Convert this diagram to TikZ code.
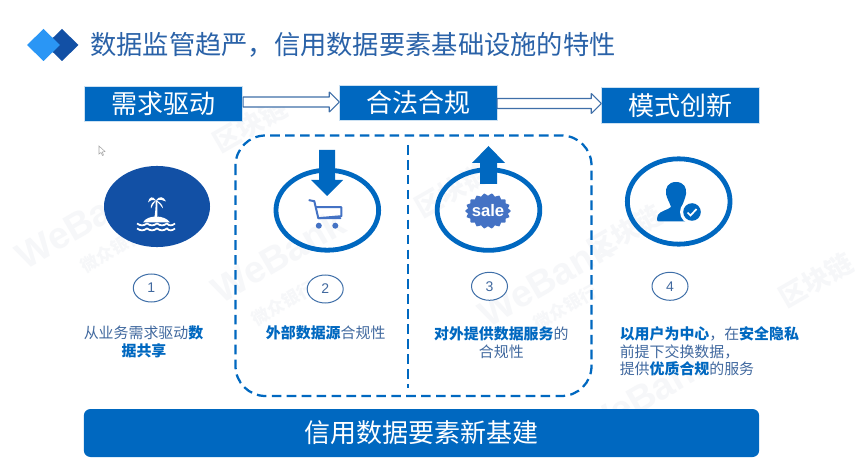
\documentclass[tikz,border=0pt]{standalone}
\usepackage{fontspec}
\setmainfont{Noto Sans CJK SC}
\newfontfamily\latinsans{Liberation Sans}
\usetikzlibrary{calc,arrows.meta,shapes.geometric}
\definecolor{wbblue}{HTML}{0068C0}
\definecolor{wbdark}{HTML}{1250A5}
\definecolor{wblight}{HTML}{2A96F5}
\definecolor{wbtitle}{HTML}{2A62A8}
\definecolor{wbtext}{HTML}{41699F}
\definecolor{wbline}{HTML}{3F6FA8}
\definecolor{wbicon}{HTML}{4472C4}
\definecolor{wmark}{HTML}{F6F7F9}
\tikzset{
  x=0.75pt,y=-0.75pt,
  headbox/.style={fill=wbblue,draw=white!80!wbblue,line width=0.4pt,text=white,minimum width=118pt,minimum height=26.6pt,inner sep=0pt,font=\fontsize{19.5pt}{22pt}\selectfont},
  hollow/.style={draw=wbline,fill=white,line width=0.8pt,line join=bevel},
  bigring/.style={draw=wbblue,line width=3.6pt,fill=none},
  numring/.style={draw=wbline,line width=0.75pt,fill=white,font=\latinsans\fontsize{10.5pt}{12pt}\selectfont,text=wbtext,inner sep=0pt},
  dashline/.style={draw=wbblue,line width=1.7pt,dash pattern=on 7.2pt off 4pt},
  desc/.style={text=wbtext,font=\fontsize{11.2pt}{13pt}\selectfont,inner sep=0pt},
  wmA/.style={text=wmark,rotate=30,font=\latinsans\bfseries\fontsize{28pt}{30pt}\selectfont,inner sep=0pt},
  wmB/.style={text=wmark,rotate=30,font=\bfseries\fontsize{13pt}{15pt}\selectfont,inner sep=0pt},
  wmC/.style={text=wmark,rotate=30,font=\bfseries\fontsize{20pt}{22pt}\selectfont,inner sep=0pt},
}
\newcommand{\hollowarrow}[2]{%
  \draw[hollow] ($(#1)+(0,-5)$) -- ($(#2)+(-10,-5)$) -- ($(#2)+(-10,-10)$) -- (#2) --
    ($(#2)+(-10,10)$) -- ($(#2)+(-10,5)$) -- ($(#1)+(0,5)$) -- cycle;}
\newcommand{\bb}[1]{\textcolor{wbblue}{\bfseries #1}}
\begin{document}
\begin{tikzpicture}
\useasboundingbox (0,0) rectangle (864,463);
\fill[white] (0,0) rectangle (864,463);
% faint watermark
\node[wmA] (wa) at (82,222) {WeBank};
\node[wmB] (wb) at (112,250) {微众银行};
\node[wmC] (wc) at (250,125) {区块链};
\node[wmA] (wd) at (278,256) {WeBank};
\node[wmB] (we) at (283,303) {微众银行};
\node[wmC] (wf) at (452,190) {区块链};
\node[wmA] (wg) at (545,280) {WeBank};
\node[wmB] (wh) at (565,307) {微众银行};
\node[wmC] (wi) at (625,232) {区块链};
\node[wmA] (wj) at (645,395) {WeBank};
\node[wmC] (wk) at (816,280) {区块链};
% title mark
\fill[wbdark] (62,29) -- (78.5,45) -- (62,61) -- (45.5,45) -- cycle;
\fill[wblight] (43.5,29) -- (60,45) -- (43.5,61) -- (27,45) -- cycle;
\node[anchor=west,inner sep=0pt,text=wbtitle,font=\fontsize{19.7pt}{22pt}\selectfont] (title) at (90,45) {数据监管趋严，信用数据要素基础设施的特性};
% header boxes
\node[headbox] (need) at (163.2,104) {需求驱动};
\node[headbox] (legal) at (418.2,102.7) {合法合规};
\node[headbox] (mode) at (680.2,105.2) {模式创新};
\coordinate (a1s) at ($(need.east)+(1,-2)$);
\coordinate (a1e) at ($(legal.west)+(0,-0.7)$);
\coordinate (a2s) at ($(legal.east)+(0,0.8)$);
\coordinate (a2e) at ($(mode.west)+(0,-1.7)$);
\hollowarrow{a1s}{a1e}
\hollowarrow{a2s}{a2e}
% dashed frame
\draw[dashline,rounded corners=22.5pt] (235.5,135.5) rectangle (591.5,396);
\draw[dashline] (408,145) -- (408,388);
% ring 1 with island
\node[ellipse,fill=wbdark,minimum width=79.5pt,minimum height=60.8pt,inner sep=0pt] (r1) at (157,206.5) {};
\begin{scope}[shift={(r1.center)}]
  \fill[white] (-1.5,-6) .. controls (-1,0) and (-2,8) .. (-3,13) -- (0,13) .. controls (0.5,8) and (0.5,0) .. (0.5,-6) -- cycle;
  \fill[white] (-1,-6) .. controls (-4,-11) and (-8,-10) .. (-9,-4) .. controls (-6,-7) and (-4,-7) .. (-1,-6) -- cycle;
  \fill[white] (-1,-6) .. controls (2,-11) and (7,-10) .. (9,-5) .. controls (6,-7) and (3,-7) .. (-1,-6) -- cycle;
  \fill[white] (-1,-6) .. controls (-4,-5) and (-7,-2) .. (-6,2) .. controls (-5,-1) and (-3,-3) .. (-1,-6) -- cycle;
  \fill[white] (-1,-6) .. controls (2,-5) and (6,-2) .. (6,2) .. controls (4,-1) and (2,-3) .. (-1,-6) -- cycle;
  \fill[white] (-14,16) .. controls (-10,8) and (8,8) .. (13,16) -- cycle;
  \draw[white,line width=1.3pt] (-20,17) .. controls (-16,19.5) and (-14,19.5) .. (-10,17) .. controls (-6,19.5) and (-4,19.5) .. (0,17) .. controls (4,19.5) and (6,19.5) .. (10,17) .. controls (12,19.5) and (15,19.5) .. (18,17);
  \draw[white,line width=1.3pt] (-20,22) .. controls (-16,24.5) and (-14,24.5) .. (-10,22) .. controls (-6,24.5) and (-4,24.5) .. (0,22) .. controls (4,24.5) and (6,24.5) .. (10,22) .. controls (12,24.5) and (15,24.5) .. (18,22);
\end{scope}
% ring 2 with cart
\node[ellipse,bigring,minimum width=77pt,minimum height=60pt,inner sep=0pt] (r2) at (327.3,210.2) {};
\fill[wbblue] (319,150) -- (335,150) -- (335,180) -- (343,180) -- (327,196) -- (311,180) -- (319,180) -- cycle;
\begin{scope}[shift={(r2.center)}]
  \draw[draw=wbicon,line width=1.5pt,line join=round,line cap=round] (-18,-10) -- (-13,-9) -- (-9,8) -- (13,8);
  \draw[draw=wbicon,line width=1.5pt,line join=round] (-11.5,-3) -- (14,-3) -- (14,6) -- (-9,8);
  \fill[wbicon] (-8.5,15.5) circle (3) (8,15.5) circle (3);
\end{scope}
% ring 3 with sale badge
\node[ellipse,bigring,minimum width=77pt,minimum height=60.5pt,inner sep=0pt] (r3) at (488.5,210) {};
\fill[wbblue] (480,184) -- (497,184) -- (497,163) -- (505,163) -- (488.5,146) -- (472,163) -- (480,163) -- cycle;
\fill[wbicon] plot[samples=73,domain=0:360] ({488+(21.5+1.3*cos(18*\x))*cos(\x)},{211+(16.5+1.3*cos(18*\x))*sin(\x)}) -- cycle;
\node[text=white,inner sep=0pt,font=\latinsans\bfseries\fontsize{12.5pt}{14pt}\selectfont] (sale) at (488,211) {sale};
% ring 4 with person
\node[ellipse,bigring,minimum width=77pt,minimum height=64pt,inner sep=0pt] (r4) at (678.7,201.5) {};
\fill[wbblue] (676,182) .. controls (684,182) and (687,188) .. (686,194) .. controls (685,200) and (682,204) .. (682,208) .. controls (686,210) and (692,212) .. (695,214) -- (695,221.5) -- (659,221.5) .. controls (656,221.5) and (657,218) .. (658,215) .. controls (660,211) and (668,210) .. (671,207) .. controls (670,203) and (667,199) .. (666,194) .. controls (665,188) and (668,182) .. (676,182) -- cycle;
\fill[white] (692,212) circle (12);
\fill[wbblue] (692,212) circle (8.8);
\draw[white,line width=1.3pt] (687.5,212.5) -- (690.5,215.5) -- (696.5,209);
% number rings
\node[ellipse,numring,minimum width=27pt,minimum height=21pt] (n1) at (151.3,288) {1};
\node[ellipse,numring,minimum width=27pt,minimum height=21pt] (n2) at (325.2,289) {2};
\node[ellipse,numring,minimum width=27pt,minimum height=21pt] (n3) at (489.5,286.3) {3};
\node[ellipse,numring,minimum width=27pt,minimum height=21pt] (n4) at (670,286.3) {4};
% descriptions
\node[desc] (d1a) at (143.5,332.5) {从业务需求驱动\bb{数}};
\node[desc] (d1b) at (144,350.5) {\bb{据共享}};
\node[desc] (d2a) at (325.7,332.5) {\bb{外部数据源}合规性};
\node[desc] (d3a) at (501.3,333.5) {\bb{对外提供数据服务}的};
\node[desc] (d3b) at (501.3,351.5) {合规性};
\node[desc,anchor=west] (d4a) at (619.5,333.5) {\bb{以用户为中心}，在\bb{安全隐私}};
\node[desc,anchor=west] (d4b) at (619.5,351.5) {前提下交换数据，};
\node[desc,anchor=west] (d4c) at (619.5,369) {提供\bb{优质合规}的服务};
% bottom bar
\node[fill=wbblue,rounded corners=5pt,text=white,minimum width=506.5pt,minimum height=36pt,inner sep=0pt,font=\fontsize{19.5pt}{22pt}\selectfont] (base) at (421.5,433) {信用数据要素新基建};
% mouse pointer
\draw[draw=gray!70,fill=white,line width=0.4pt] (99,146) -- (99,154) -- (101,152.5) -- (102.5,155.5) -- (103.5,155) -- (102.3,152) -- (105,151.5) -- cycle;
\end{tikzpicture}
\end{document}
